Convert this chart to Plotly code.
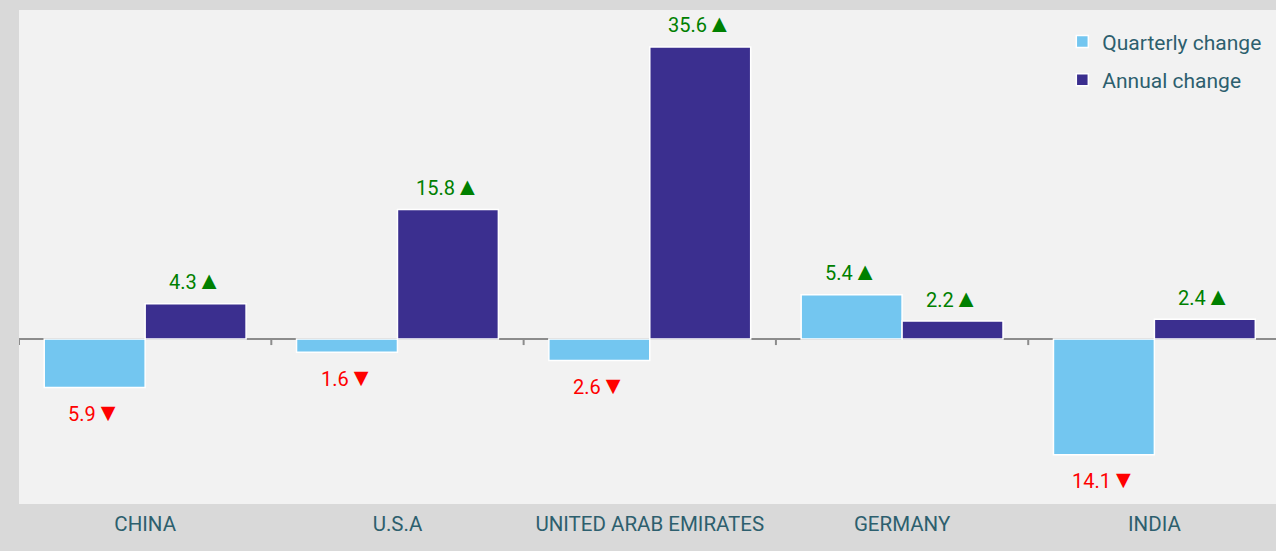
import plotly.graph_objects as go

categories = ["CHINA", "U.S.A", "UNITED ARAB EMIRATES", "GERMANY", "INDIA"]
quarterly = [-5.9, -1.6, -2.6, 5.4, -14.1]
annual = [4.3, 15.8, 35.6, 2.2, 2.4]
series_names = ["Quarterly change", "Annual change"]

C_Q = "#73C6F0"
C_A = "#3B2F8F"
TXT = "#2D5F6E"
FONT = "Roboto"

fig = go.Figure()
fig.add_bar(x=categories, y=quarterly, name=series_names[0], legendgroup="q",
            marker=dict(color=C_Q, line=dict(color="white", width=1.5)), hoverinfo="skip")
fig.add_bar(x=categories, y=annual, name=series_names[1], legendgroup="a",
            marker=dict(color=C_A, line=dict(color="white", width=1.5)), hoverinfo="skip")

annotations = []
for series, off in ((quarterly, -0.2), (annual, 0.2)):
    for i, v in enumerate(series):
        up = v >= 0
        tri = "▲" if up else "▼"
        annotations.append(dict(
            x=i + off, y=v, xref="x", yref="y",
            text=f"{abs(v)}<span style='font-size:25px'>{tri}</span>",
            showarrow=False,
            yshift=23 if up else -25,
            font=dict(family=FONT, size=20, color="#008000" if up else "#FF0000"),
        ))

shapes = []
for i in range(len(categories) + 1):
    shapes.append(dict(type="line", xref="x", yref="y", x0=i - 0.5, x1=i - 0.5,
                       ysizemode="pixel", yanchor=0, y0=0, y1=-6,
                       line=dict(color="#8C8C8C", width=2)))

fig.update_layout(
    width=1276, height=551,
    margin=dict(l=19, r=0, t=10, b=47),
    paper_bgcolor="#D9D9D9",
    plot_bgcolor="#F2F2F2",
    barmode="group", bargap=0.2, bargroupgap=0,
    font=dict(family=FONT, color=TXT),
    showlegend=True,
    legend=dict(x=0.83, xanchor="left", y=0.977, yanchor="top", bgcolor="rgba(0,0,0,0)",
                font=dict(family=FONT, size=21, color=TXT),
                traceorder="grouped", tracegroupgap=8),
    xaxis=dict(range=[-0.5, 4.482], showgrid=False, ticks="", showline=False,
               ticklabelstandoff=5,
               tickfont=dict(family=FONT, size=20.5, color=TXT), fixedrange=True),
    yaxis=dict(range=[-20.1, 40.1], showgrid=False, showticklabels=False, ticks="",
               zeroline=True, zerolinecolor="#8C8C8C", zerolinewidth=2, fixedrange=True),
    annotations=annotations,
    shapes=shapes,
)

fig.write_html("out.html", config={"displayModeBar": False},
               post_script="document.body.style.margin='0';document.body.style.overflow='hidden';")
